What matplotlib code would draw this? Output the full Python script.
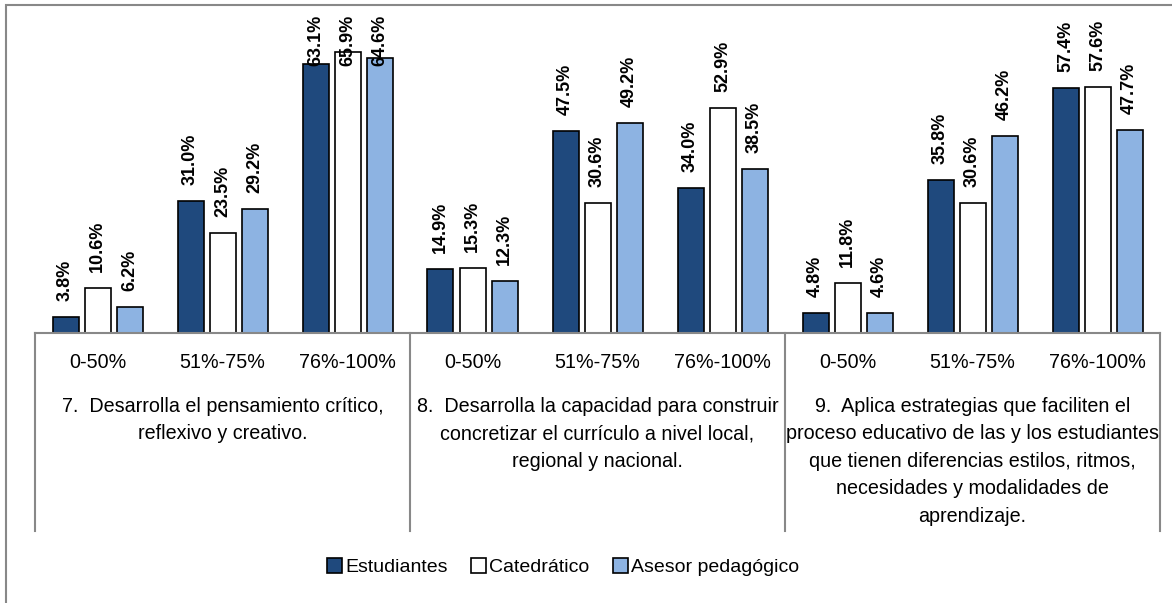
import matplotlib
matplotlib.use('Agg')
import matplotlib.pyplot as plt
import matplotlib.transforms as mtransforms
from matplotlib.patches import Patch, Rectangle
import numpy as np

plt.rcParams['font.family'] = ['Liberation Sans', 'DejaVu Sans']

ranges = ['0-50%', '51%-75%', '76%-100%']
groups = ['7.  Desarrolla el pensamiento crítico,\nreflexivo y creativo.',
          '8.  Desarrolla la capacidad para construir\nconcretizar el currículo a nivel local,\nregional y nacional.',
          '9.  Aplica estrategias que faciliten el\nproceso educativo de las y los estudiantes\nque tienen diferencias estilos, ritmos,\nnecesidades y modalidades de\naprendizaje.']
series = ['Estudiantes', 'Catedrático', 'Asesor pedagógico']
estudiantes = [3.8, 31.0, 63.1, 14.9, 47.5, 34.0, 4.8, 35.8, 57.4]
catedratico = [10.6, 23.5, 65.9, 15.3, 30.6, 52.9, 11.8, 30.6, 57.6]
asesor = [6.2, 29.2, 64.6, 12.3, 49.2, 38.5, 4.6, 46.2, 47.7]

colors = ['#1F497D', '#FFFFFF', '#8DB3E2']
W, H = 1172, 603
fig = plt.figure(figsize=(W / 100, H / 100), dpi=100)
ax = fig.add_axes([35 / W, (H - 333) / H, (1160 - 35) / W, (333 - 15) / H])

ymax = 74.6
x = np.arange(9)
pitch = 0.256
width = 0.208
gap = 16 * ymax / 318

for k, (vals, col) in enumerate(zip([estudiantes, catedratico, asesor], colors)):
    xs = x + (k - 1) * pitch
    ax.bar(xs, vals, width, color=col, edgecolor='black', linewidth=1.2, zorder=2)
    for xi, v in zip(xs, vals):
        ax.text(xi, v + gap, f'{v:.1f}%', rotation=90, ha='center', va='bottom',
                fontsize=13, fontweight='bold', zorder=3)

ax.set_xlim(-0.5, 8.5)
ax.set_ylim(0, ymax)
ax.set_xticks([])
ax.set_yticks([])
for s in ['top', 'right', 'left']:
    ax.spines[s].set_visible(False)
ax.spines['bottom'].set_color('#888888')
ax.spines['bottom'].set_linewidth(1.5)

# clamp labels that run past the top of the plot area
fig.canvas.draw()
r = fig.canvas.get_renderer()
top_px = ax.get_window_extent(r).y1
for t in ax.texts:
    bb = t.get_window_extent(r)
    if bb.y1 > top_px:
        t.set_y(ymax)
        t.set_va('top')

trans = mtransforms.blended_transform_factory(ax.transData, fig.transFigure)
for i in range(9):
    ax.text(i, (H - 362) / H, ranges[i % 3], transform=trans, ha='center', va='center',
            fontsize=14.2)
for g in range(3):
    ax.text(3 * g + 1, (H - 397) / H, groups[g], transform=trans, ha='center', va='top',
            fontsize=14.2, linespacing=1.56)
for xb in [-0.5, 2.5, 5.5, 8.5]:
    ax.plot([xb, xb], [(H - 333) / H, (H - 531) / H], transform=trans, color='#888888',
            lw=1.5, clip_on=False)

handles = [Patch(facecolor=c, edgecolor='black', linewidth=1.2) for c in colors]
fig.legend(handles, series, loc='center', bbox_to_anchor=(563 / W, (H - 567) / H),
           ncol=3, frameon=False, fontsize=14, handlelength=0.8, handleheight=0.8,
           handletextpad=0.15, columnspacing=1.2)

fig.patches.append(Rectangle((5.5 / W, -0.1), 2, (H - 5.5) / H + 0.1, transform=fig.transFigure,
                             fill=False, edgecolor='#888888', linewidth=1.5))

fig.savefig('out.png', dpi=100)
